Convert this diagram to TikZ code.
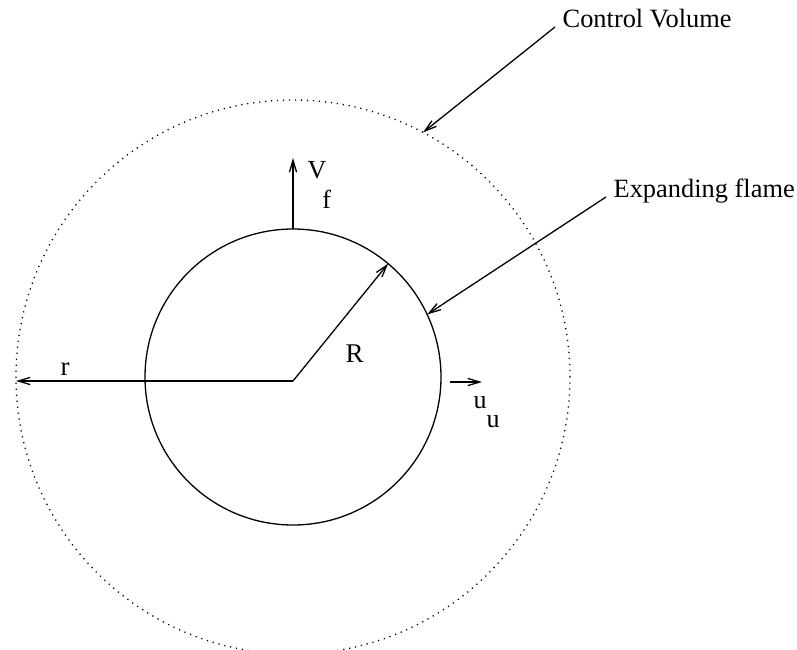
\documentclass[tikz,border=0pt]{standalone}
\usepackage{fontspec}
\setmainfont{Liberation Serif}
\usetikzlibrary{arrows.meta}
\begin{document}
\begin{tikzpicture}[
    x=0.5pt, y=-0.5pt,
    >={Straight Barb[length=6pt,width=3.6pt]},
    line width=0.65pt,
    big/.style={inner sep=0pt, anchor=base west, font=\fontsize{13.5}{16}\selectfont},
    small/.style={inner sep=0pt, anchor=base west, font=\fontsize{13}{15}\selectfont},
    callout/.style={inner sep=3.5pt, anchor=base west, font=\fontsize{13.2}{16}\selectfont}
]
  \useasboundingbox (0,0) rectangle (797,649);

  % nodes
  \node[circle, draw, dash pattern=on 0.6pt off 2.4pt, minimum size=277pt, inner sep=0pt, outer sep=0pt] (cv) at (293,377) {};
  \node[circle, draw, minimum size=148pt, inner sep=0pt, outer sep=0pt] (flame) at (293,377) {};
  \coordinate (O) at (293,381);
  \coordinate (vf) at (293,158);
  \coordinate (ua) at (450,382);
  \coordinate (ub) at (482,382);

  \node[callout] (cvlabel) at (555,27) {Control Volume};
  \node[callout] (flamelabel) at (606,197) {Expanding flame};
  \node[big] (rlabel) at (60,375) {r};
  \node[big] (Rlabel) at (345,362) {R};
  \node[small] (vflabel) at (307,178) {V\kern-2pt\raisebox{-15pt}{f}};
  \node[small] (uulabel) at (473,408) {u\raisebox{-9.5pt}{u}};

  % edges
  \draw[->] (O) -- (O -| cv.west);
  \draw[->] (O) -- (flame.50);
  \draw[->] (flame.north) -- (vf);
  \draw[->] (ua) -- (ub);
  \draw[->] (cvlabel.base west) -- (cv.62);
  \draw[->] (flamelabel.base west) -- (flame.25);
\end{tikzpicture}
\end{document}
